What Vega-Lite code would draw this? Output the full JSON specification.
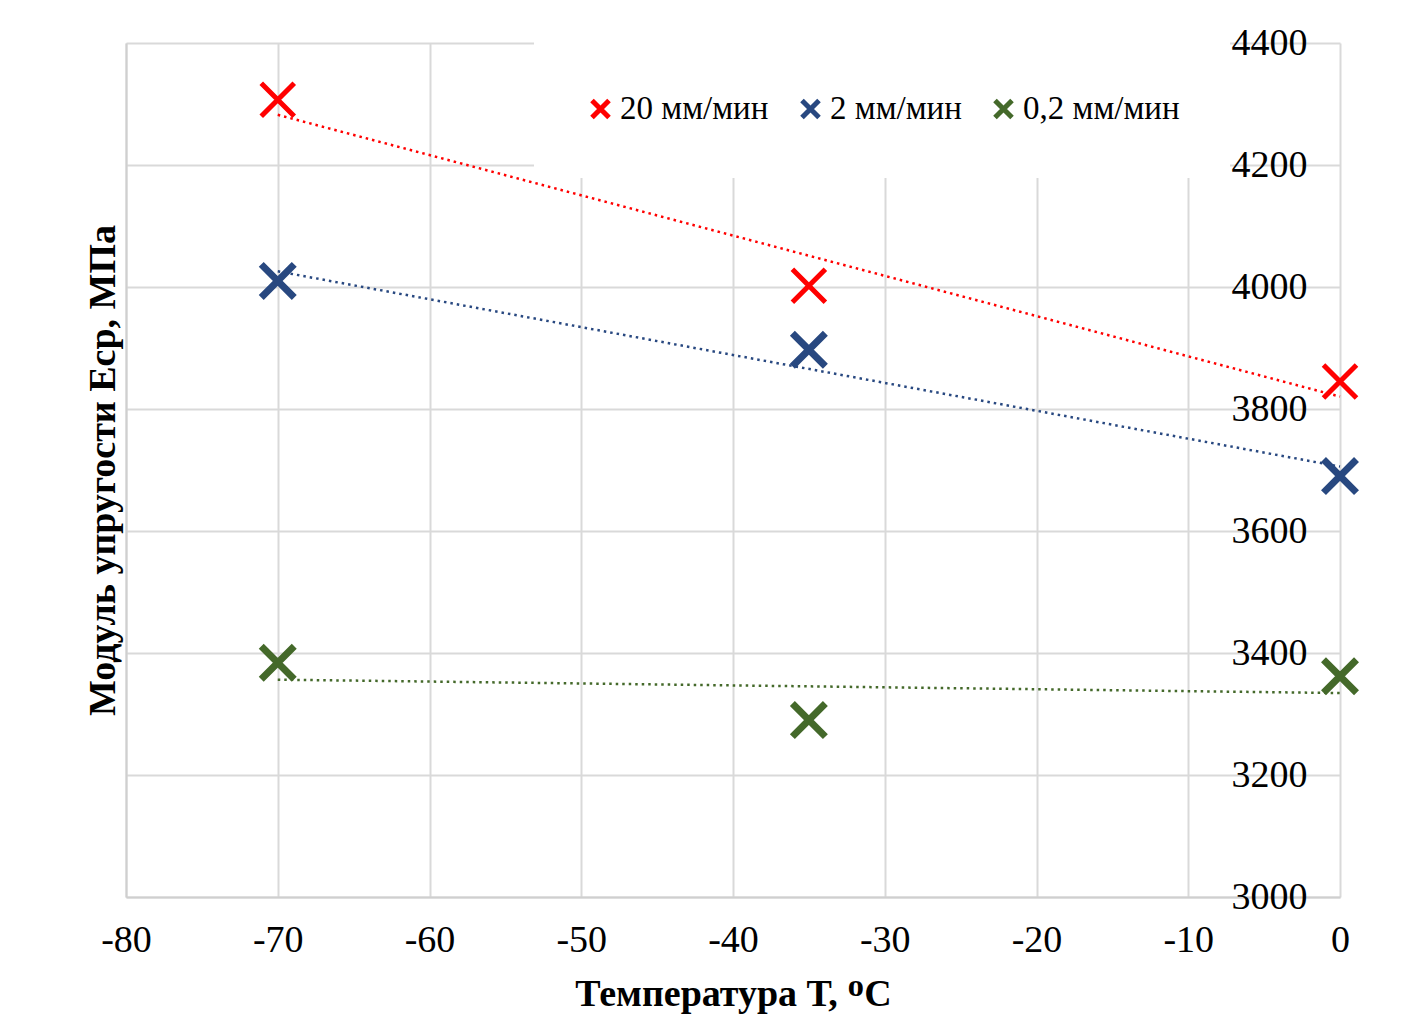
{
  "$schema": "https://vega.github.io/schema/vega-lite/v6.json",
  "width": 1214,
  "height": 854,
  "autosize": {"type": "none"},
  "padding": {"left": 126, "top": 43, "right": 67, "bottom": 137},
  "background": "white",
  "config": {
    "view": {"stroke": null},
    "font": "Liberation Serif",
    "axis": {"labelFont": "Liberation Serif", "titleFont": "Liberation Serif", "labelColor": "black", "titleColor": "black"},
    "legend": {"labelFont": "Liberation Serif"}
  },
  "data": {
    "values": [
      {"series": "20 мм/мин", "T": -70, "E": 4307},
      {"series": "20 мм/мин", "T": -35, "E": 4002},
      {"series": "20 мм/мин", "T": 0, "E": 3845},
      {"series": "2 мм/мин", "T": -70, "E": 4010},
      {"series": "2 мм/мин", "T": -35, "E": 3897},
      {"series": "2 мм/мин", "T": 0, "E": 3690},
      {"series": "0,2 мм/мин", "T": -70, "E": 3384},
      {"series": "0,2 мм/мин", "T": -35, "E": 3290},
      {"series": "0,2 мм/мин", "T": 0, "E": 3362}
    ]
  },
  "layer": [
    {
      "transform": [{"regression": "E", "on": "T", "groupby": ["series"]}],
      "mark": {"type": "line", "strokeDash": [2.5, 4], "strokeWidth": 2.5},
      "encoding": {
        "x": {"field": "T", "type": "quantitative"},
        "y": {"field": "E", "type": "quantitative"},
        "color": {"field": "series", "type": "nominal"}
      }
    },
    {
      "mark": {"type": "point", "shape": "M-1,-1L1,1M-1,1L1,-1", "filled": false, "size": 1090, "opacity": 1},
      "encoding": {
        "x": {
          "field": "T", "type": "quantitative",
          "scale": {"domain": [-80, 0], "nice": false, "zero": false},
          "axis": {
            "values": [-80, -70, -60, -50, -40, -30, -20, -10, 0],
            "labelExpr": "'' + datum.value",
            "title": "Температура Т, ᴼC",
            "grid": true, "gridColor": "#d9d9d9", "gridWidth": 2,
            "ticks": false, "domainColor": "#cfcfcf", "domainWidth": 2,
            "labelFontSize": 38, "labelPadding": 24, "labelFlush": false,
            "titleFontSize": 38, "titleFontWeight": "bold", "titlePadding": 16
          }
        },
        "y": {
          "field": "E", "type": "quantitative",
          "scale": {"domain": [3000, 4400], "nice": false, "zero": false},
          "axis": {
            "orient": "left",
            "values": [3000, 3200, 3400, 3600, 3800, 4000, 4200, 4400],
            "labelExpr": "'' + datum.value",
            "title": "Модуль упругости Еср, МПа",
            "grid": true, "gridColor": "#d9d9d9", "gridWidth": 2,
            "ticks": false, "domainColor": "#cfcfcf", "domainWidth": 2,
            "labelFontSize": 38, "labelPadding": -1181, "labelAlign": "right", "labelBaseline": "middle",
            "labelOverlap": false,
            "titleFontSize": 38, "titleFontWeight": "bold", "titlePadding": 4
          }
        },
        "color": {
          "field": "series", "type": "nominal",
          "scale": {"domain": ["20 мм/мин", "2 мм/мин", "0,2 мм/мин"], "range": ["#ff0000", "#284880", "#44692a"]},
          "legend": {
            "title": null, "orient": "none", "direction": "horizontal",
            "legendX": 408, "legendY": -1,
            "fillColor": "white", "padding": 50,
            "symbolType": "M-1,-1L1,1M-1,1L1,-1", "symbolSize": 290, "symbolStrokeWidth": 5,
            "symbolFillColor": "transparent",
            "labelFontSize": 33, "labelColor": "black", "labelOffset": 3, "columnPadding": 22
          }
        },
        "strokeWidth": {"condition": {"test": "datum.series === '20 мм/мин'", "value": 5}, "value": 7}
      }
    }
  ]
}
